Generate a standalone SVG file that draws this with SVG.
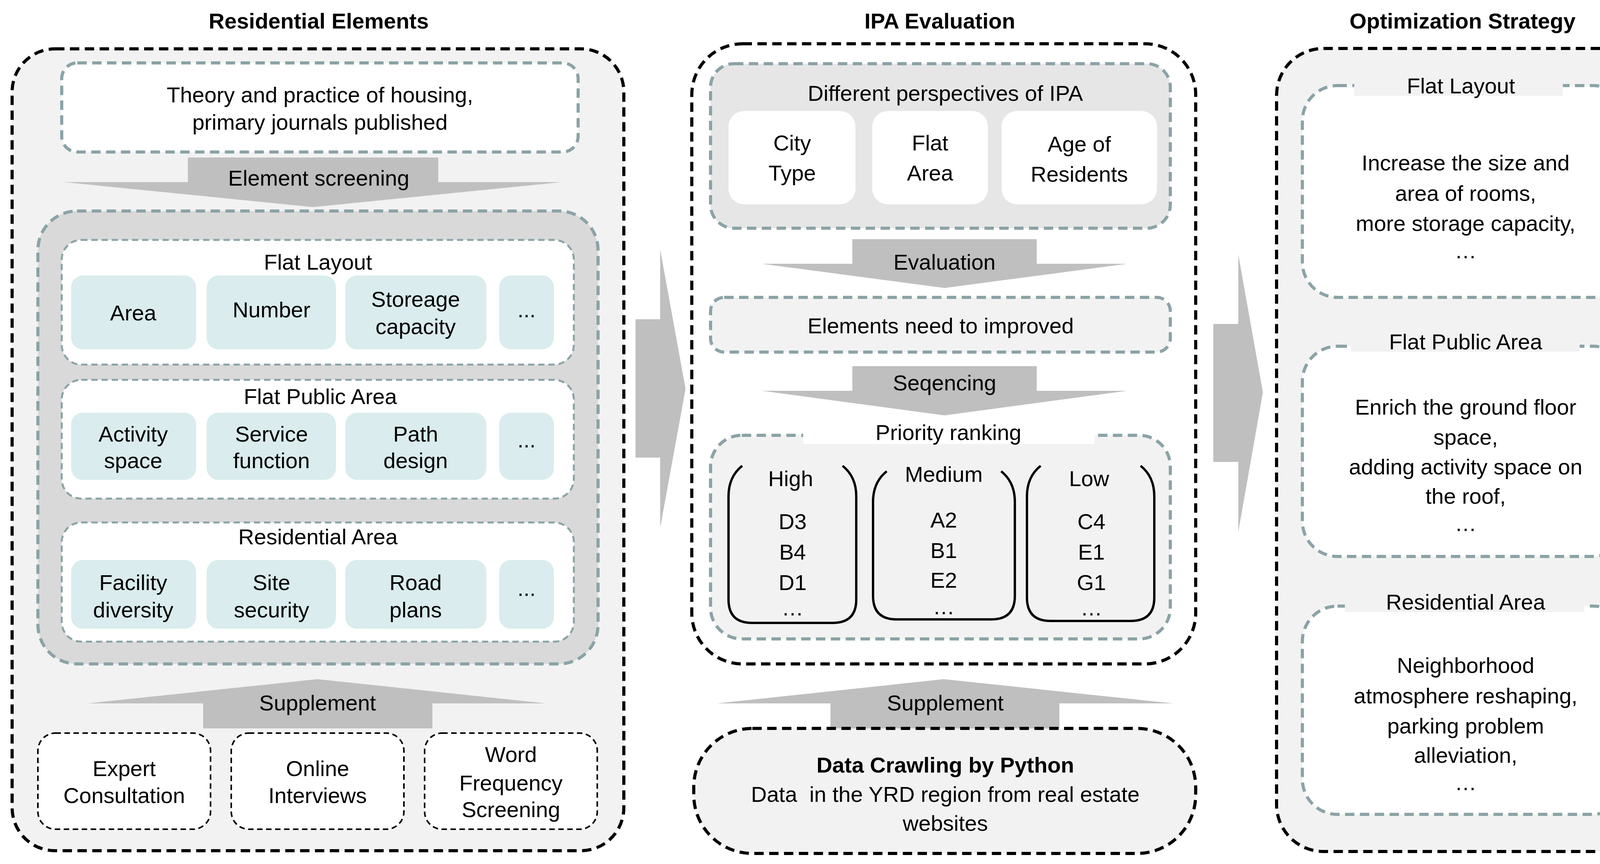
<svg xmlns="http://www.w3.org/2000/svg" width="4324" height="2211" viewBox="0 0 4324 2211">
<style>
text{font-family:"Liberation Sans",Arial,sans-serif;font-size:56px;fill:#000;text-anchor:middle;dominant-baseline:central}
.b{font-weight:bold}
.outer{stroke:#000;stroke-width:8;stroke-dasharray:24 14;fill:#f2f2f2}
.thin{stroke:#000;stroke-width:4;stroke-dasharray:14 9;fill:#fff}
.teal{stroke:#8aa3a6;stroke-width:8;stroke-dasharray:24 14}
.tealt{stroke:#8aa3a6;stroke-width:5;stroke-dasharray:16 10;fill:#fff}
.cell{fill:#daeced}
.arr{fill:#bfbfbf}
.br{fill:none;stroke:#000;stroke-width:6}
</style>
<rect width="4324" height="2211" fill="#fff"/>
<g id="connectors">
<polygon class="arr" points="1627,817 1690,817 1690,638 1755,995 1690,1351 1690,1171 1627,1171"/>
<polygon class="arr" points="3106,829 3170,829 3170,651 3233,1004 3170,1361 3170,1182 3106,1182"/>
</g>
<g id="residential">
<text class="b" x="816" y="53">Residential Elements</text>
<rect class="outer" x="31" y="125" width="1566" height="2052" rx="110"/>
<g id="theory"><rect class="teal" fill="#fff" x="158" y="161" width="1322" height="228" rx="40"/>
<text x="819" y="242">Theory and practice of housing,</text><text x="819" y="312">primary journals published</text></g>
<g id="screening"><polygon class="arr" points="481,403 1122,403 1122,466 1439,466 801,530 163,466 481,466"/><text x="816" y="455">Element screening</text></g>
<rect class="teal" fill="#d9d9d9" x="97" y="540" width="1434" height="1159" rx="100"/>
<g id="flatlayout"><rect class="tealt" x="158" y="614" width="1311" height="319" rx="50"/>
<text x="814" y="670">Flat Layout</text>
<rect class="cell" x="182" y="705" width="320" height="189" rx="30"/><text x="341" y="800">Area</text>
<rect class="cell" x="529" y="705" width="331" height="189" rx="30"/><text x="695" y="792">Number</text>
<rect class="cell" x="884" y="705" width="361" height="189" rx="30"/><text x="1064" y="765">Storeage</text><text x="1064" y="835">capacity</text>
<rect class="cell" x="1278" y="705" width="140" height="189" rx="30"/><text x="1348" y="792">...</text></g>
<g id="flatpublic"><rect class="tealt" x="158" y="972" width="1311" height="304" rx="50"/>
<text x="820" y="1014">Flat Public Area</text>
<rect class="cell" x="182" y="1056" width="320" height="172" rx="30"/><text x="341" y="1110">Activity</text><text x="341" y="1178">space</text>
<rect class="cell" x="529" y="1056" width="331" height="172" rx="30"/><text x="695" y="1110">Service</text><text x="695" y="1178">function</text>
<rect class="cell" x="884" y="1056" width="361" height="172" rx="30"/><text x="1064" y="1110">Path</text><text x="1064" y="1178">design</text>
<rect class="cell" x="1278" y="1056" width="140" height="172" rx="30"/><text x="1348" y="1125">...</text></g>
<g id="resarea"><rect class="tealt" x="158" y="1337" width="1311" height="305" rx="50"/>
<text x="814" y="1373">Residential Area</text>
<rect class="cell" x="182" y="1433" width="320" height="176" rx="30"/><text x="341" y="1490">Facility</text><text x="341" y="1560">diversity</text>
<rect class="cell" x="529" y="1433" width="331" height="176" rx="30"/><text x="695" y="1490">Site</text><text x="695" y="1560">security</text>
<rect class="cell" x="884" y="1433" width="361" height="176" rx="30"/><text x="1064" y="1490">Road</text><text x="1064" y="1560">plans</text>
<rect class="cell" x="1278" y="1433" width="140" height="176" rx="30"/><text x="1348" y="1505">...</text></g>
<g id="supplement1"><polygon class="arr" points="813,1738 1398,1800 1107,1800 1107,1864 520,1864 520,1800 224,1800"/><text x="813" y="1798">Supplement</text></g>
<g id="expert"><rect class="thin" x="97" y="1876" width="442" height="246" rx="45"/><text x="318" y="1966">Expert</text><text x="318" y="2035">Consultation</text></g>
<g id="online"><rect class="thin" x="592" y="1876" width="442" height="246" rx="45"/><text x="813" y="1966">Online</text><text x="813" y="2035">Interviews</text></g>
<g id="word"><rect class="thin" x="1087" y="1876" width="442" height="246" rx="45"/><text x="1308" y="1930">Word</text><text x="1308" y="2003">Frequency</text><text x="1308" y="2071">Screening</text></g>
</g>
<g id="ipa">
<text class="b" x="2406" y="53">IPA Evaluation</text>
<rect class="outer" fill="#fff" style="fill:#fff" x="1771" y="112" width="1290" height="1587" rx="130"/>
<g id="perspectives"><rect class="teal" fill="#e6e6e6" x="1819" y="163" width="1177" height="421" rx="60"/>
<text x="2420" y="238">Different perspectives of IPA</text>
<rect fill="#fff" x="1865" y="284" width="325" height="239" rx="40"/><text x="2028" y="365">City</text><text x="2028" y="442">Type</text>
<rect fill="#fff" x="2233" y="284" width="296" height="239" rx="40"/><text x="2381" y="365">Flat</text><text x="2381" y="442">Area</text>
<rect fill="#fff" x="2564" y="284" width="398" height="239" rx="40"/><text x="2763" y="368">Age of</text><text x="2763" y="445">Residents</text></g>
<g id="evaluation"><polygon class="arr" points="2182,612 2654,612 2654,675 2886,675 2418,737 1950,675 2182,675"/><text x="2418" y="670">Evaluation</text></g>
<g id="elements"><rect class="teal" fill="#f2f2f2" x="1819" y="761" width="1177" height="140" rx="35"/><text x="2408" y="833">Elements need to improved</text></g>
<g id="seq"><polygon class="arr" points="2182,937 2654,937 2654,1000 2886,1000 2418,1063 1950,1000 2182,1000"/><text x="2418" y="979">Seqencing</text></g>
<g id="priority"><rect class="teal" fill="#f2f2f2" x="1819" y="1114" width="1177" height="521" rx="80"/>
<rect fill="#fff" x="2056" y="1080" width="746" height="56"/>
<text x="2428" y="1106">Priority ranking</text>
<path class="br" d="M1900,1192 Q1865,1220 1865,1270 L1865,1534 Q1865,1594 1925,1594 L2132,1594 Q2192,1594 2192,1534 L2192,1270 Q2192,1220 2157,1192"/>
<path class="br" d="M2270,1206 Q2235,1234 2235,1284 L2235,1525 Q2235,1585 2295,1585 L2538,1585 Q2598,1585 2598,1525 L2598,1284 Q2598,1234 2563,1206"/>
<path class="br" d="M2664,1192 Q2629,1220 2629,1270 L2629,1529 Q2629,1589 2689,1589 L2895,1589 Q2955,1589 2955,1529 L2955,1270 Q2955,1220 2920,1192"/>
<text x="2024" y="1224">High</text><text x="2029" y="1334">D3</text><text x="2029" y="1412">B4</text><text x="2029" y="1490">D1</text><text x="2029" y="1555">…</text>
<text x="2416" y="1213">Medium</text><text x="2416" y="1330">A2</text><text x="2416" y="1408">B1</text><text x="2416" y="1484">E2</text><text x="2416" y="1552">…</text>
<text x="2788" y="1224">Low</text><text x="2794" y="1334">C4</text><text x="2794" y="1412">E1</text><text x="2794" y="1490">G1</text><text x="2794" y="1555">…</text></g>
<g id="supplement2"><polygon class="arr" points="2416,1738 3003,1800 2712,1800 2712,1864 2126,1864 2126,1800 1835,1800"/><text x="2420" y="1798">Supplement</text></g>
<g id="crawl"><rect class="outer" x="1776" y="1864" width="1285" height="320" rx="150"/>
<text class="b" x="2420" y="1957">Data Crawling by Python</text>
<text x="2420" y="2032" style="white-space:pre">Data  in the YRD region from real estate</text>
<text x="2420" y="2106">websites</text></g>
</g>
<g id="strategy">
<text class="b" x="3744" y="53">Optimization Strategy</text>
<rect class="outer" x="3268" y="124" width="1031" height="2055" rx="120"/>
<g id="s1"><rect class="teal" fill="#fff" x="3334" y="219" width="834" height="542" rx="90"/>
<rect fill="#f2f2f2" x="3467" y="185" width="534" height="60"/>
<text x="3740" y="219">Flat Layout</text>
<text x="3752" y="416">Increase the size and</text><text x="3752" y="494">area of rooms,</text><text x="3752" y="571">more storage capacity,</text><text x="3752" y="641">…</text></g>
<g id="s2"><rect class="teal" fill="#fff" x="3334" y="886" width="834" height="538" rx="90"/>
<rect fill="#f2f2f2" x="3459" y="840" width="585" height="60"/>
<text x="3752" y="874">Flat Public Area</text>
<text x="3752" y="1041">Enrich the ground floor</text><text x="3752" y="1118">space,</text><text x="3752" y="1194">adding activity space on</text><text x="3752" y="1269">the roof,</text><text x="3752" y="1339">…</text></g>
<g id="s3"><rect class="teal" fill="#fff" x="3334" y="1551" width="834" height="533" rx="90"/>
<rect fill="#f2f2f2" x="3443" y="1506" width="613" height="60"/>
<text x="3752" y="1540">Residential Area</text>
<text x="3752" y="1702">Neighborhood</text><text x="3752" y="1780">atmosphere reshaping,</text><text x="3752" y="1857">parking problem</text><text x="3752" y="1932">alleviation,</text><text x="3752" y="2002">…</text></g>
<text x="4243" y="1128" transform="rotate(-90 4243 1128)" style="font-size:58px">Based on IPA evaluation results and data crawling</text>
</g>
</svg>
